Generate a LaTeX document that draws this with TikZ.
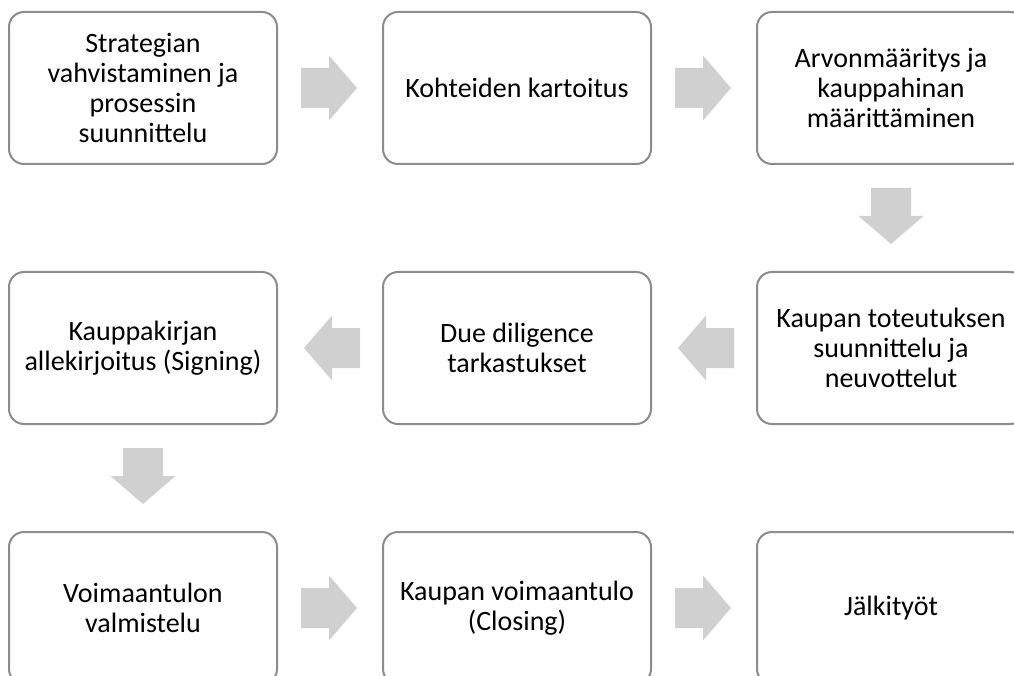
\documentclass[tikz,border=0pt]{standalone}
\usepackage{fontspec}
\setmainfont{Carlito}
\usetikzlibrary{calc}
\definecolor{boxline}{RGB}{140,140,140}
\definecolor{arrowgray}{RGB}{208,208,208}
\tikzset{
  stepbox/.style={draw=boxline, line width=2pt, rounded corners=15pt, fill=white,
    minimum width=268pt, minimum height=152pt, inner sep=0pt, outer sep=0pt,
    align=center, font=\fontsize{28pt}{30pt}\selectfont, text=black},
  blockarrow/.pic={\fill[arrowgray] (-28,-20) -- (0,-20) -- (0,-32.5) -- (28,0) -- (0,32.5) -- (0,20) -- (-28,20) -- cycle;}
}
\begin{document}
\begin{tikzpicture}[x=1pt,y=-1pt]
\useasboundingbox (0,0) rectangle (1014,676);
\clip (0,0) rectangle (1014,676);
\node[stepbox] (a1) at (143,88) {Strategian\\vahvistaminen ja\\prosessin\\suunnittelu};
\node[stepbox] (a2) at (517,88) {Kohteiden kartoitus};
\node[stepbox] (a3) at (891,88) {Arvonmääritys ja\\kauppahinan\\määrittäminen};
\node[stepbox] (b3) at (891,348) {Kaupan toteutuksen\\suunnittelu ja\\neuvottelut};
\node[stepbox] (b2) at (517,348) {Due diligence\\tarkastukset};
\node[stepbox] (b1) at (143,348) {Kauppakirjan\\allekirjoitus (Signing)};
\node[stepbox] (c1) at (143,608) {Voimaantulon\\valmistelu};
\node[stepbox] (c2) at (517,608) {Kaupan voimaantulo\\(Closing)};
\node[stepbox] (c3) at (891,608) {Jälkityöt};
\coordinate (m12) at ($(a1.east)!0.5!(a2.west)+(-1,0)$);
\coordinate (m23) at ($(a2.east)!0.5!(a3.west)+(-1,0)$);
\coordinate (m3d) at ($(a3.south)!0.5!(b3.north)+(0,-2)$);
\coordinate (m32) at ($(b3.west)!0.5!(b2.east)+(2,0)$);
\coordinate (m21) at ($(b2.west)!0.5!(b1.east)+(2,0)$);
\coordinate (m1d) at ($(b1.south)!0.5!(c1.north)+(0,-2)$);
\coordinate (n12) at ($(c1.east)!0.5!(c2.west)+(-1,0)$);
\coordinate (n23) at ($(c2.east)!0.5!(c3.west)+(-1,0)$);
\pic at (m12) {blockarrow};
\pic at (m23) {blockarrow};
\pic[rotate=-90] at (m3d) {blockarrow};
\pic[rotate=180] at (m32) {blockarrow};
\pic[rotate=180] at (m21) {blockarrow};
\pic[rotate=-90] at (m1d) {blockarrow};
\pic at (n12) {blockarrow};
\pic at (n23) {blockarrow};
\end{tikzpicture}
\end{document}
